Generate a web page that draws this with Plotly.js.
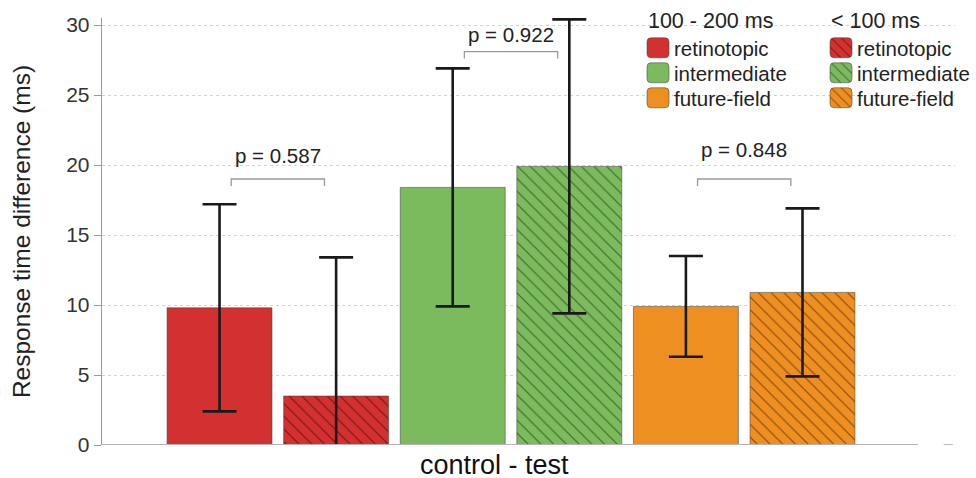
<!DOCTYPE html>
<html>
<head>
<meta charset="utf-8">
<script src="https://cdn.plot.ly/plotly-3.0.1.min.js"></script>
<style>
  html, body { margin: 0; padding: 0; background: #fff; }
  #chart { width: 976px; height: 478px; }
</style>
</head>
<body>
<div id="chart"></div>
<script>
// ---- data ----
const categories = ['retinotopic', 'intermediate', 'future-field'];
const windowLabels = ['100 - 200 ms', '< 100 ms'];
const means100to200 = [9.8, 18.4, 9.9];
const err100to200 = [7.4, 8.5, 3.6];
const meansUnder100 = [3.5, 19.9, 10.9];
const errUnder100 = [9.9, 10.5, 6.0];
const pValues = ['0.587', '0.922', '0.848'];
const bracketY = [19.0, 28.1, 19.0];
const pLabelY = [20.7, 29.3, 21.1];
const yTicks = [0, 5, 10, 15, 20, 25, 30];
const xLabel = 'control - test';
const yLabel = 'Response time difference (ms)';

// ---- styles ----
const colors = ['#d33131', '#7cba5e', '#ee8f22'];
const hatchColors = ['#7a1414', '#3f6a2c', '#8a4d08'];
const FONT = 'Liberation Sans, Arial, Helvetica, sans-serif';
const NB = '\u00a0\u00a0'; // small indent so the legend title lines up with the swatches

const traces = [];
categories.forEach((cat, i) => {
  const x0 = i * 2;
  traces.push({
    type: 'bar', x: [x0], y: [means100to200[i]], width: 0.9,
    name: cat, legend: 'legend', legendrank: i + 1,
    marker: { color: colors[i], line: { color: 'rgba(70,70,70,0.55)', width: 1 } },
    error_y: { type: 'data', array: [err100to200[i]], visible: true,
               color: '#1a1a1a', thickness: 2.6, width: 17 },
    hoverinfo: 'skip'
  });
  traces.push({
    type: 'bar', x: [x0 + 1], y: [meansUnder100[i]], width: 0.9,
    name: cat, legend: 'legend2', legendrank: i + 1,
    marker: { color: colors[i], line: { color: 'rgba(70,70,70,0.55)', width: 1 },
              pattern: { shape: '\\', bgcolor: colors[i], fgcolor: hatchColors[i],
                         size: 9, solidity: 0.13 } },
    error_y: { type: 'data', array: [errUnder100[i]], visible: true,
               color: '#1a1a1a', thickness: 2.6, width: 17 },
    hoverinfo: 'skip'
  });
});

const shapes = [];
const annotations = [];
pValues.forEach((p, i) => {
  const a = i * 2 + 0.1, b = i * 2 + 1 - 0.1, y = bracketY[i];
  shapes.push({ type: 'path', xref: 'x', yref: 'y',
    path: `M${a},${y - 0.5} L${a},${y} L${b},${y} L${b},${y - 0.5}`,
    line: { color: '#9a9a9a', width: 1.3 } });
  annotations.push({ x: i * 2 + 0.5, y: pLabelY[i], xref: 'x', yref: 'y',
    text: 'p = ' + p, showarrow: false,
    font: { family: FONT, size: 20.5, color: '#222' } });
});
// x axis baseline and trailing dash
shapes.push({ type: 'line', xref: 'x', yref: 'y', x0: -1.01, x1: 5.99, y0: 0, y1: 0,
  line: { color: '#b5b5b5', width: 1.8 } });
shapes.push({ type: 'line', xref: 'x', yref: 'y', x0: 6.21, x1: 6.29, y0: 0, y1: 0,
  line: { color: '#b5b5b5', width: 1.8 } });
// y axis arrow head
annotations.push({ x: 0, y: 30.55, xref: 'paper', yref: 'y', ax: 0, ay: 8,
  showarrow: true, arrowhead: 2, arrowsize: 1.2, arrowwidth: 1.3, arrowcolor: '#777', text: '' });
// x axis label (centred under the bars, as in the original)
annotations.push({ x: 0.4596, y: -0.047, xref: 'paper', yref: 'paper',
  xanchor: 'center', yanchor: 'middle', showarrow: false, text: xLabel,
  font: { family: FONT, size: 27, color: '#111' } });

const legendFont = { family: FONT, size: 20.5, color: '#222' };
const titleFont = { family: FONT, size: 21.5, color: '#222' };
const layout = {
  width: 976, height: 478,
  margin: { l: 102, r: 21, t: 18, b: 33, autoexpand: false },
  paper_bgcolor: '#fff', plot_bgcolor: '#fff',
  font: { family: FONT, color: '#222' },
  barmode: 'overlay',
  showlegend: true,
  xaxis: {
    range: [-1.008, 6.308], showticklabels: false, ticks: '', showgrid: false,
    zeroline: false, showline: false, fixedrange: true
  },
  yaxis: {
    range: [0, 30.5], tickvals: yTicks, ticktext: yTicks.map(String),
    ticks: 'outside', ticklen: 7, tickcolor: '#9a9a9a', tickwidth: 1,
    tickfont: { family: FONT, size: 21, color: '#333' },
    showline: true, linecolor: '#9a9a9a', linewidth: 1.3,
    showgrid: true, gridcolor: '#d4d4d4', griddash: 'dot', gridwidth: 1,
    zeroline: false,
    title: { text: yLabel, font: { family: FONT, size: 24.5, color: '#222' }, standoff: 28 }
  },
  legend: {
    xref: 'container', yref: 'container',
    x: 0.6496, y: 1.0, xanchor: 'left', yanchor: 'top',
    title: { text: NB + windowLabels[0], font: titleFont },
    font: legendFont,
    bgcolor: 'rgba(0,0,0,0)', traceorder: 'normal', tracegroupgap: 0
  },
  legend2: {
    xref: 'container', yref: 'container',
    x: 0.8371, y: 1.0, xanchor: 'left', yanchor: 'top',
    title: { text: NB + windowLabels[1], font: titleFont },
    font: legendFont,
    bgcolor: 'rgba(0,0,0,0)', traceorder: 'normal', tracegroupgap: 0
  },
  shapes: shapes,
  annotations: annotations
};

const ROUNDED = 'M-7,-10H7A4,4 0 0 1 11,-6V6A4,4 0 0 1 7,10H-7A4,4 0 0 1 -11,6V-6A4,4 0 0 1 -7,-10Z';
function shiftOnce(el, dx) {
  const cur = el.getAttribute('transform') || '';
  if (el.getAttribute('data-tw') === cur && cur !== '') return;
  const next = cur + ` translate(${dx},0)`;
  el.setAttribute('transform', next);
  el.setAttribute('data-tw', next);
}
function tweakLegends(gd) {
  gd.querySelectorAll('.legendpoints path').forEach(p => {
    p.setAttribute('d', ROUNDED);
    shiftOnce(p, 4);
  });
  gd.querySelectorAll('.infolayer > g[class^="legend"]').forEach(lg => {
    const items = lg.querySelectorAll('g.traces');
    let y0 = null;
    items.forEach((it, k) => {
      const m = /translate\(\s*([-\d.]+)[ ,]+([-\d.]+)\s*\)/.exec(it.getAttribute('transform') || '');
      if (!m) return;
      if (y0 === null) y0 = parseFloat(m[2]);
      it.setAttribute('transform', `translate(${m[1]},${y0 + k * 25})`);
    });
  });
}
Plotly.newPlot('chart', traces, layout, { staticPlot: true, displayModeBar: false }).then(gd => {
  tweakLegends(gd);
  gd.on('plotly_afterplot', () => tweakLegends(gd));
});
</script>
</body>
</html>
